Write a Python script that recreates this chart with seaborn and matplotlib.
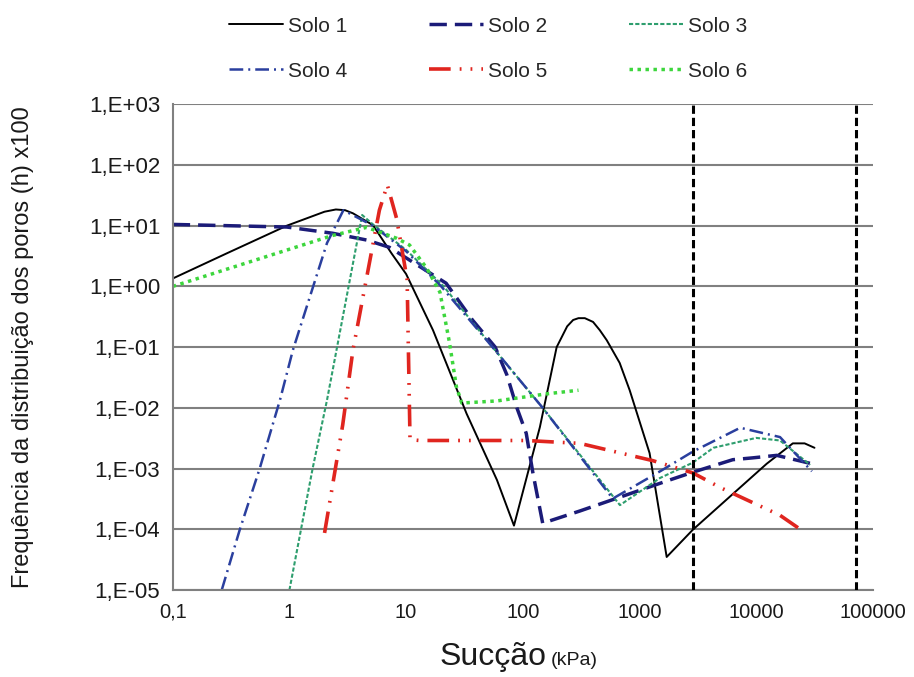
import numpy as np
import pandas as pd
import matplotlib
matplotlib.use("Agg")
import matplotlib.pyplot as plt
import seaborn as sns
from matplotlib.ticker import LogLocator, FixedLocator, FuncFormatter, NullFormatter

# valores (succao em kPa, frequencia x100)
solo1_x = [0.1, 0.29, 0.95, 1.6, 2.0, 2.5, 3.0, 3.5, 5.2, 7.5, 10, 17, 33, 60, 84, 140, 195, 240, 270, 300, 340, 400, 457, 524, 676, 824, 1220, 1710, 2860, 5900, 12300, 20600, 26000, 31600]
solo1_y = [1.35, 3.5, 10, 14.5, 17, 18.5, 18, 16, 10.2, 3.5, 1.6, 0.19, 8e-3, 6.5e-4, 1.15e-4, 4.8e-3, 0.1, 0.22, 0.28, 0.30, 0.30, 0.26, 0.19, 0.13, 0.055, 0.0195, 1.8e-3, 3.5e-5, 9.8e-5, 3.4e-4, 1.2e-3, 2.6e-3, 2.6e-3, 2.2e-3]

solo2_x = [0.1, 0.95, 2.35, 4.6, 7.2, 22, 37, 58, 73, 89, 107, 122, 148, 308, 1820, 2860, 6300, 9300, 15000, 30000]
solo2_y = [10.5, 9.5, 7.5, 5.8, 4.4, 1.13, 0.28, 0.1, 0.035, 0.01, 3.8e-3, 8.5e-4, 1.26e-4, 2.0e-4, 6.5e-4, 8.7e-4, 1.4e-3, 1.5e-3, 1.65e-3, 1.2e-3]

solo3_x = [1.0, 1.58, 2.1, 4.2, 5.2, 10, 21, 55, 148, 680, 1500, 2860, 4300, 10000, 16000, 29000]
solo3_y = [1e-5, 1e-3, 0.0135, 15, 10.5, 4, 1.0, 0.1, 0.01, 2.5e-4, 7e-4, 1.25e-3, 2.2e-3, 3.2e-3, 2.9e-3, 1.15e-3]

solo4_x = [0.263, 0.375, 0.556, 0.83, 1.07, 2.1, 2.9, 5.2, 10, 20, 55, 148, 590, 1500, 2860, 7300, 16000, 30000]
solo4_y = [1e-5, 9.8e-5, 1e-3, 0.0135, 0.089, 5.2, 18, 10, 3.8, 1.0, 0.1, 0.01, 3.2e-4, 9e-4, 1.9e-3, 4.7e-3, 3.3e-3, 9e-4]

solo5_x = [2.0, 2.86, 3.5, 5.9, 6.9, 8.3, 10.2, 10.8, 13, 107, 308, 1300, 2860, 5000, 16000, 23000]
solo5_y = [8.7e-5, 5.2e-3, 0.089, 18, 47, 13, 1.3, 3e-3, 2.9e-3, 2.9e-3, 2.6e-3, 1.35e-3, 8.5e-4, 4.8e-4, 1.7e-4, 1.05e-4]

solo6_x = [0.1, 2.34, 4.6, 8.3, 10.7, 15, 19.5, 23.5, 27, 30, 60, 160, 300]
solo6_y = [1.0, 6.9, 9.4, 6.2, 4.8, 2.0, 0.8, 0.12, 0.022, 0.012, 0.013, 0.017, 0.0195]

limites_x = [2900, 71000]

x_ticks = [0.1, 1, 10, 100, 1000, 10000, 100000]
x_labels = ["0,1", "1", "10", "100", "1000", "10000", "100000"]
y_exps = list(range(-5, 4))

series = [
    ("Solo 1", solo1_x, solo1_y, "black", "-", 1.4),
    ("Solo 2", solo2_x, solo2_y, "#1b1b78", (0, (5, 2.3)), 2.5),
    ("Solo 3", solo3_x, solo3_y, "#2e9e6e", (0, (2, 1)), 1.5),
    ("Solo 4", solo4_x, solo4_y, "#2a3f9e", (0, (5.5, 2, 0.8, 2)), 1.8),
    ("Solo 5", solo5_x, solo5_y, "#e0251f", (0, (6, 2.5, 0.5, 2.5, 0.5, 2.5)), 2.6),
    ("Solo 6", solo6_x, solo6_y, "#3dd63d", (0, (1, 1.3)), 2.5),
]

sns.set_style("white")
plt.rcParams["font.family"] = ["Liberation Sans", "DejaVu Sans"]

fig = plt.figure(figsize=(9.14, 6.77), dpi=100)
ax = fig.add_axes([0.189, 0.1285, 0.766, 0.7175])

for name, xs, ys, color, ls, lw in series:
    df = pd.DataFrame({"x": xs, "y": ys})
    sns.lineplot(data=df, x="x", y="y", ax=ax, color=color, linestyle=ls,
                 linewidth=lw, label=name, sort=False, estimator=None)

for xv in limites_x:
    ax.axvline(xv, color="black", linestyle=(0, (2.7, 1.3)), linewidth=2.2, zorder=5)

ax.set_xscale("log")
ax.set_yscale("log")
ax.set_xlim(0.1, 100000)
ax.set_ylim(1e-5, 1e3)

ax.xaxis.set_major_locator(FixedLocator(x_ticks))
ax.set_xticklabels(x_labels)
ax.xaxis.set_minor_locator(LogLocator(base=10, subs=np.arange(2, 10), numticks=20))
ax.xaxis.set_minor_formatter(NullFormatter())

ax.yaxis.set_major_locator(FixedLocator([10.0 ** e for e in y_exps]))
ax.yaxis.set_major_formatter(FuncFormatter(lambda v, p: "1,E{:+03d}".format(int(round(np.log10(v))))))
ax.yaxis.set_minor_locator(LogLocator(base=10, subs=np.arange(2, 10), numticks=20))
ax.yaxis.set_minor_formatter(NullFormatter())

ax.tick_params(which="major", direction="inout", length=8, width=1.2, color="#808080",
               pad=5, labelcolor="#1a1a1a")
ax.tick_params(axis="x", which="major", labelsize=14.5)
ax.tick_params(axis="y", which="major", labelsize=16)
ax.tick_params(which="minor", direction="inout", length=6, width=1.0, color="#808080")

ax.grid(axis="y", which="major", color="#808080", linewidth=1.5)
ax.grid(axis="x", visible=False)
for side in ["top", "right"]:
    ax.spines[side].set_visible(False)
for side in ["left", "bottom"]:
    ax.spines[side].set_color("#808080")
    ax.spines[side].set_linewidth(1.5)

ax.set_xlabel("")
ax.set_ylabel("Frequência da distribuição dos poros (h) x100", fontsize=17, color="#1a1a1a")
ax.yaxis.set_label_coords(-0.198, 0.5)

fig.text(0.598, 0.018, "Sucção", fontsize=23, ha="right", va="baseline", color="#1a1a1a")
fig.text(0.603, 0.018, "(kPa)", fontsize=14, ha="left", va="baseline", color="#1a1a1a")

handles, labels = ax.get_legend_handles_labels()
order = [0, 3, 1, 4, 2, 5]
ax.legend([handles[i] for i in order], [labels[i] for i in order],
          loc="upper left", bbox_to_anchor=(0.23, 1.003), bbox_transform=fig.transFigure,
          ncol=3, frameon=False, fontsize=15, handlelength=2.6, handletextpad=0.25,
          columnspacing=3.9, labelspacing=1.25)

fig.savefig("out.png", dpi=100)
